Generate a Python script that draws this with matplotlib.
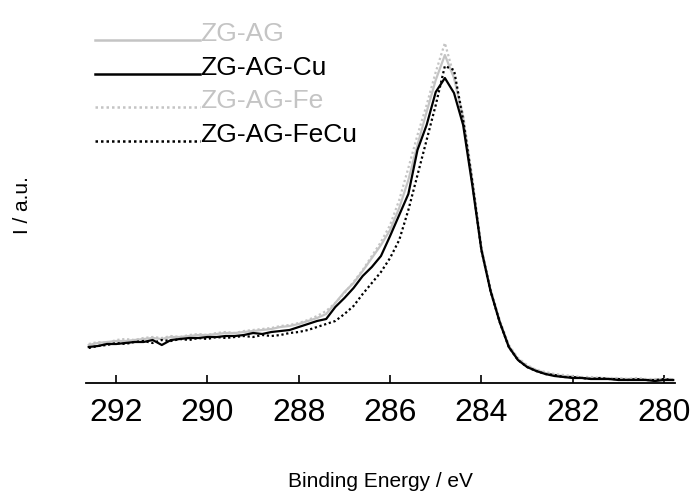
import matplotlib
matplotlib.use("Agg")
import matplotlib.pyplot as plt
from matplotlib.lines import Line2D
import numpy as np

plt.rcParams['font.family'] = ['Liberation Sans', 'DejaVu Sans']

# Binding energy grid (eV), 0.2 eV steps, high -> low
energy = np.round(np.arange(292.6, 279.75, -0.2), 1)

# Intensities (arbitrary units)
zg_ag = [38, 40, 41, 42, 42, 43, 44, 45, 44, 46, 46, 47, 48, 48,
         49, 50, 50, 51, 52, 53, 54, 56, 57, 59,
         62, 65, 69, 80, 91, 100, 112, 125, 138, 153,
         175, 203, 238, 271, 303, 328, 305, 265, 203, 135,
         93, 62, 37, 24, 17, 13, 10, 8, 7, 6,
         5, 5, 5, 4, 4, 4, 4, 3, 3, 3, 3]

zg_ag_cu = [36, 37, 39, 39, 40, 41, 41, 43, 38, 43, 44, 45, 45, 46,
            46, 47, 47, 48, 50, 49, 51, 52, 53, 56,
            59, 62, 64, 76, 85, 95, 107, 116, 127, 147,
            168, 189, 233, 258, 291, 305, 290, 258, 198, 133,
            92, 61, 36, 23, 16, 12, 9, 7, 6, 5,
            5, 4, 4, 4, 3, 3, 3, 3, 2, 3, 3]

zg_ag_fe = [39, 41, 40, 43, 44, 43, 45, 46, 45, 47, 46, 48, 49, 48,
            50, 51, 50, 52, 53, 54, 55, 57, 58, 60,
            63, 67, 72, 80, 90, 101, 113, 127, 141, 158,
            183, 215, 248, 278, 311, 340, 307, 268, 205, 135,
            94, 63, 38, 25, 18, 13, 11, 9, 8, 7,
            6, 6, 5, 5, 5, 4, 5, 4, 4, 4, 4]

zg_ag_fecu = [35, 37, 38, 40, 39, 41, 42, 40, 43, 42, 44, 43, 45, 44,
              46, 45, 46, 47, 46, 48, 47, 48, 50, 51,
              53, 56, 59, 62, 69, 77, 89, 100, 111, 125,
              143, 173, 208, 243, 278, 317, 313, 263, 201, 133,
              92, 61, 36, 23, 16, 12, 9, 8, 6, 6,
              5, 4, 5, 4, 4, 3, 4, 3, 3, 4, 3]

labels = ['ZG-AG', 'ZG-AG-Cu', 'ZG-AG-Fe', 'ZG-AG-FeCu']
series = [zg_ag, zg_ag_cu, zg_ag_fe, zg_ag_fecu]
colors = ['#c4c4c4', 'black', '#c4c4c4', 'black']
dotted = (0, (1, 1.2))
styles = ['-', '-', dotted, dotted]

W, H = 696, 494
fig = plt.figure(figsize=(W / 100, H / 100), dpi=100)
ax = fig.add_axes([86 / W, 1 - 383 / H, (675 - 86) / W, (383 - 23) / H])

draw_order = [2, 0, 1, 3]
for i in draw_order:
    ax.plot(energy, series[i], color=colors[i], linestyle=styles[i], lw=1.6)

ax.set_xlim(292.66, 279.76)
ax.set_ylim(0, 360)
ax.set_xticks([292, 290, 288, 286, 284, 282, 280])
ax.set_yticks([])
for s in ['top', 'left', 'right']:
    ax.spines[s].set_visible(False)
ax.spines['bottom'].set_linewidth(1.3)
ax.tick_params(axis='x', direction='in', length=6, width=1.2, labelsize=23, pad=11)

# legend drawn by hand: long handle line ending at the text baseline
leg_y = [40, 74, 107, 141]
for lab, col, ls, y in zip(labels, colors, styles, leg_y):
    fig.add_artist(Line2D([95 / W, 200 / W], [1 - y / H, 1 - y / H],
                          color=col, linestyle=ls, lw=1.8))
    fig.text(200 / W, 1 - (y + 1) / H, lab, color=col, fontsize=19,
             ha='left', va='baseline')

fig.text(380 / W, 1 - 481 / H, 'Binding Energy / eV', fontsize=15,
         ha='center', va='center')
fig.text(23 / W, 1 - 205 / H, 'I / a.u.', fontsize=15, rotation=90,
         ha='center', va='center')

fig.savefig('out.png', dpi=100)
